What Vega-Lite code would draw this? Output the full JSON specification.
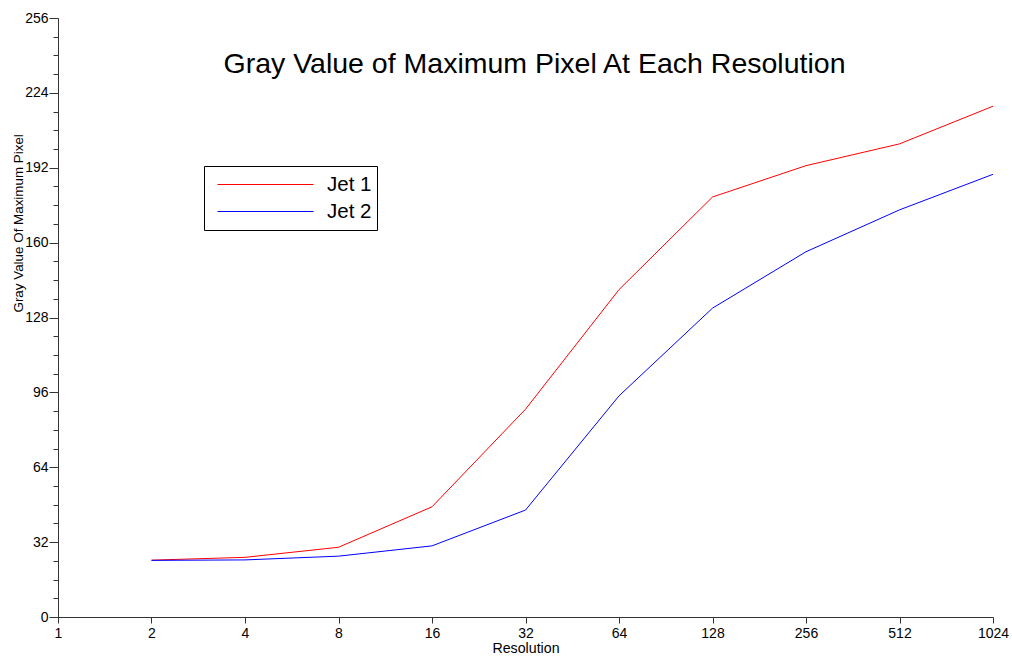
{
  "$schema": "https://vega.github.io/schema/vega-lite/v6.json",
  "width": 935,
  "height": 599,
  "autosize": "none",
  "padding": {"left": 58, "top": 18, "right": 19, "bottom": 44},
  "background": "white",
  "title": {
    "text": "Gray Value of Maximum Pixel At Each Resolution",
    "font": "Liberation Sans",
    "fontSize": 28.5,
    "fontWeight": "normal",
    "color": "black",
    "anchor": "middle",
    "frame": "group",
    "baseline": "alphabetic",
    "offset": 0,
    "dy": 90,
    "dx": 9
  },
  "data": {
    "values": [
      {"res": 2, "value": 24.3, "series": "Jet 1"},
      {"res": 4, "value": 25.5, "series": "Jet 1"},
      {"res": 8, "value": 29.8, "series": "Jet 1"},
      {"res": 16, "value": 47.1, "series": "Jet 1"},
      {"res": 32, "value": 88.8, "series": "Jet 1"},
      {"res": 64, "value": 139.9, "series": "Jet 1"},
      {"res": 128, "value": 179.5, "series": "Jet 1"},
      {"res": 256, "value": 192.9, "series": "Jet 1"},
      {"res": 512, "value": 202.2, "series": "Jet 1"},
      {"res": 1024, "value": 218.3, "series": "Jet 1"},
      {"res": 2, "value": 24.2, "series": "Jet 2"},
      {"res": 4, "value": 24.4, "series": "Jet 2"},
      {"res": 8, "value": 26.0, "series": "Jet 2"},
      {"res": 16, "value": 30.4, "series": "Jet 2"},
      {"res": 32, "value": 45.7, "series": "Jet 2"},
      {"res": 64, "value": 94.5, "series": "Jet 2"},
      {"res": 128, "value": 132.0, "series": "Jet 2"},
      {"res": 256, "value": 156.1, "series": "Jet 2"},
      {"res": 512, "value": 174.0, "series": "Jet 2"},
      {"res": 1024, "value": 189.2, "series": "Jet 2"}
    ]
  },
  "layer": [
    {
      "mark": {"type": "line", "strokeWidth": 1},
      "encoding": {
        "x": {
          "field": "res",
          "type": "quantitative",
          "scale": {"type": "log", "base": 2, "domain": [1, 1024], "nice": false},
          "axis": {
            "values": [1, 2, 4, 8, 16, 32, 64, 128, 256, 512, 1024],
            "format": "d",
            "tickSize": 6,
            "labelPadding": 3,
            "labelFlush": false,
            "title": "Resolution",
            "titleFontSize": 14.2,
            "titlePadding": 1
          }
        },
        "y": {
          "field": "value",
          "type": "quantitative",
          "scale": {"domain": [0, 256], "nice": false, "zero": true},
          "axis": {
            "orient": "left",
            "values": [0, 32, 64, 96, 128, 160, 192, 224, 256],
            "tickSize": 9,
            "labelPadding": 1,
            "title": "Gray Value Of Maximum Pixel",
            "titleFontSize": 13.4,
            "titleAngle": 270,
            "titleAlign": "left",
            "titleBaseline": "middle",
            "titleX": -40,
            "titleY": 294
          }
        },
        "color": {
          "field": "series",
          "type": "nominal",
          "scale": {"domain": ["Jet 1", "Jet 2"], "range": ["#ff0000", "#0000ff"]},
          "legend": {
            "orient": "none",
            "legendX": 146,
            "legendY": 148,
            "title": null,
            "symbolType": "stroke",
            "symbolSize": 9216,
            "symbolStrokeWidth": 1,
            "clipHeight": 27,
            "padding": 5,
            "symbolOffset": 8,
            "labelOffset": 13,
            "labelFont": "Liberation Sans",
            "labelFontSize": 20.5,
            "labelColor": "black",
            "strokeColor": "black",
            "fillColor": "white",
            "rowPadding": 0
          }
        }
      }
    },
    {
      "mark": {"type": "line", "opacity": 0},
      "encoding": {
        "x": {"field": "res", "type": "quantitative"},
        "y": {
          "field": "value",
          "type": "quantitative",
          "axis": {
            "orient": "left",
            "offset": 0,
            "values": [8, 16, 24, 40, 48, 56, 72, 80, 88, 104, 112, 120, 136, 144, 152, 168, 176, 184, 200, 208, 216, 232, 240, 248],
            "tickSize": 5,
            "labels": false,
            "domain": false,
            "title": null
          }
        },
        "detail": {"field": "series", "type": "nominal"}
      }
    }
  ],
  "resolve": {"axis": {"y": "independent"}},
  "config": {
    "view": {"stroke": null},
    "axis": {
      "grid": false,
      "domainColor": "#333333",
      "tickColor": "#333333",
      "labelFont": "Liberation Sans",
      "labelFontSize": 14,
      "labelColor": "black",
      "titleFont": "Liberation Sans",
      "titleFontWeight": "normal",
      "titleColor": "black"
    }
  }
}
